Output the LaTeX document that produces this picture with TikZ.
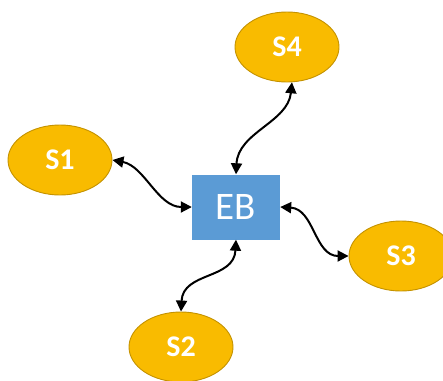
\documentclass[tikz,border=0pt]{standalone}
\usepackage{fontspec}
\setmainfont{Carlito}
\usetikzlibrary{shapes.geometric,arrows.meta}
\definecolor{gold}{HTML}{F9BB00}
\definecolor{goldedge}{HTML}{C49200}
\definecolor{ebblue}{HTML}{5B9BD5}
\tikzset{
  station/.style={ellipse, draw=goldedge, line width=0.9pt, fill=gold,
    minimum width=104pt, minimum height=70pt, inner sep=0pt,
    text=white, font=\fontsize{30}{30}\selectfont\bfseries},
  busbox/.style={rectangle, fill=ebblue, minimum width=88pt, minimum height=65pt,
    inner sep=0pt, text=white, font=\fontsize{39}{39}\selectfont},
  link/.style={line width=2pt, black,
    {Triangle[length=11pt,width=11pt]}-{Triangle[length=11pt,width=11pt]}}
}
\begin{document}
\begin{tikzpicture}[x=1pt,y=-1pt]
  \useasboundingbox (0,0) rectangle (443,380);
  \clip (0,0) rectangle (443,380);
  \node[busbox]  (eb) at (236,207) {EB};
  \node[station] (s1) at (60,160)  {S1};
  \node[station] (s4) at (287,47)  {S4};
  \node[station] (s2) at (181,347) {S2};
  \node[station] (s3) at (401,256) {S3};
  % wavy two-way links between the bus and each station
  \draw[link] (s1.east) .. controls +(32,6) and +(-34,0) .. (eb.west);
  \draw[link] (s4.-90+8) .. controls +(-4,40) and +(2,-42) .. (eb.north);
  \draw[link] (s2.north) .. controls +(2,-40) and +(-2,40) .. (eb.south);
  \draw[link] (eb.east) .. controls +(34,2) and +(-34,0) .. (s3.west);
\end{tikzpicture}
\end{document}
